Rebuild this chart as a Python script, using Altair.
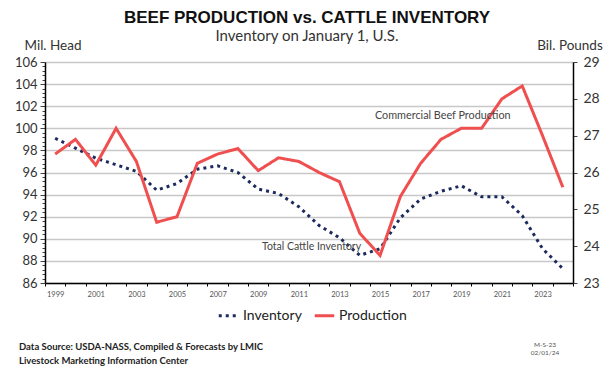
import altair as alt
import pandas as pd

years = list(range(1999, 2025))
inventory = [99.1, 98.2, 97.3, 96.7, 96.1, 94.4, 95.0, 96.3, 96.6, 96.0,
             94.5, 94.1, 92.9, 91.2, 90.1, 88.5, 89.1, 91.9, 93.6, 94.3,
             94.8, 93.8, 93.8, 92.1, 89.1, 87.3]
production = [26.5, 26.9, 26.2, 27.2, 26.3, 24.65, 24.8, 26.25, 26.5, 26.65,
              26.05, 26.4, 26.3, 26.0, 25.75, 24.35, 23.75, 25.35, 26.25, 26.9,
              27.2, 27.2, 28.0, 28.35, 27.0, 25.6]
series_names = ["Inventory", "Production"]
left_ticks = [round(86 + 0.4 * i, 1) for i in range(51)]
right_ticks = [23, 24, 25, 26, 27, 28, 29]

df = pd.DataFrame({
    "year": years * 2,
    "value": inventory + production,
    "series": ["Inventory"] * len(years) + ["Production"] * len(years),
})

NAVY = "#1c2a5c"
RED = "#ef4f4f"
FONT = "Lato"

x_enc = alt.X(
    "year:O",
    bandPosition=0.5,
    scale=alt.Scale(type="band", paddingInner=0, paddingOuter=0),
    axis=alt.Axis(
        title=None, tickBand="extent", labelAngle=0, labelFontSize=7.5,
        labelColor="#555555", labelFont=FONT, tickSize=3, tickColor="#000000",
        labelPadding=4, domainColor="#000000", domainWidth=1.5,
        labelExpr="datum.value % 2 == 1 ? datum.label : ''",
    ),
)

color_enc = alt.Color(
    "series:N",
    scale=alt.Scale(domain=series_names, range=[NAVY, RED]),
    legend=alt.Legend(
        title=None, orient="none", legendX=172, legendY=242, direction="horizontal",
        symbolType="stroke", symbolStrokeWidth=3, symbolSize=380,
        labelFontSize=14, labelFont=FONT, labelColor="#222222",
        columnPadding=6, labelOffset=3,
    ),
)
dash_enc = alt.StrokeDash(
    "series:N",
    scale=alt.Scale(domain=series_names, range=[[3, 4], [1, 0]]),
    legend=alt.Legend(title=None),
)

base = alt.Chart(df)

inv = base.transform_filter(alt.datum.series == "Inventory").mark_line(
    strokeWidth=3
).encode(
    x=x_enc,
    y=alt.Y(
        "value:Q",
        scale=alt.Scale(domain=[86, 106], nice=False, zero=False),
        axis=alt.Axis(
            title=None, orient="left", values=left_ticks,
            labelExpr="datum.value % 2 === 0 ? format(datum.value, 'd') : ''",
            labelOverlap=False, labelFontSize=13, labelFont=FONT,
            labelColor="#333333", labelPadding=3,
            tickColor="#444444", tickWidth=1,
            tickSize={"condition": {"test": "datum.value % 2 === 0", "value": 5}, "value": 3},
            grid=True, gridColor="#c8c8c8", gridWidth=1.3,
            gridOpacity={"condition": {"test": "datum.value % 2 === 0", "value": 1}, "value": 0},
            domainColor="#000000", domainWidth=1.5,
        ),
    ),
    color=color_enc,
    strokeDash=dash_enc,
)

prod = base.transform_filter(alt.datum.series == "Production").mark_line(
    strokeWidth=3
).encode(
    x=x_enc,
    y=alt.Y(
        "value:Q",
        scale=alt.Scale(domain=[23, 29], nice=False, zero=False),
        axis=alt.Axis(
            title=None, orient="right", values=right_ticks, grid=False,
            labelFontSize=14, labelFont=FONT, labelColor="#333333",
            tickSize=4, tickColor="#444444", labelPadding=6,
            domainColor="#000000", domainWidth=1.5,
        ),
    ),
    color=color_enc,
    strokeDash=dash_enc,
)


def label(text, x, y, size, color="#333333", weight="normal", align="left", font=FONT):
    return alt.Chart(pd.DataFrame({"t": [text]})).mark_text(
        align=align, baseline="alphabetic", fontSize=size, font=font,
        fontWeight=weight, color=color,
    ).encode(text="t:N", x=alt.value(x), y=alt.value(y))


texts = [
    label("BEEF PRODUCTION vs. CATTLE INVENTORY", 262, -39, 17, "#111111", "bold", "center", "Liberation Sans"),
    label("Inventory on January 1, U.S.", 262, -21, 15, "#333333", "normal", "center"),
    label("Mil. Head", 8, -12, 13.5, "#333333", "normal", "center"),
    label("Bil. Pounds", 525, -12, 13.5, "#333333", "normal", "center"),
    label("Commercial Beef Production", 330, 57, 10.8, "#444444"),
    label("Total Cattle Inventory", 217, 188, 10.5, "#444444"),
    label("Data Source:  USDA-NASS, Compiled & Forecasts by LMIC", -26, 288, 9.5, "#222222", "bold"),
    label("Livestock Marketing Information Center", -26, 302, 9.5, "#222222", "bold"),
    label("M-S-23", 500, 285, 6.5, "#555555", "normal", "center"),
    label("02/01/24", 500, 293, 6.5, "#555555", "normal", "center"),
]

chart = alt.layer(inv, prod, *texts).resolve_scale(y="independent").properties(
    width=528, height=221,
    autosize=alt.AutoSizeParams(type="none"),
    padding={"left": 37, "top": 54, "right": 32, "bottom": 89},
).configure_view(stroke="#000000", strokeWidth=1.5).configure(background="white")

chart.save("out.html", embed_options={"renderer": "svg", "actions": False})
